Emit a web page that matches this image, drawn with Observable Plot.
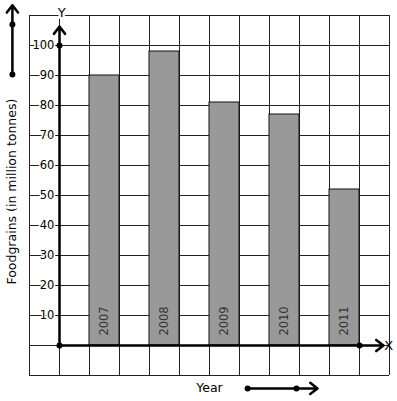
<!DOCTYPE html>
<html>
<head>
<meta charset="utf-8">
<script src="https://cdn.jsdelivr.net/npm/d3@7"></script>
<script src="https://cdn.jsdelivr.net/npm/@observablehq/plot@0.6"></script>
<style>
  html, body { margin: 0; padding: 0; background: #fff; }
  svg { display: block; }
</style>
</head>
<body>
<div id="chart"></div>
<script>
const years = ["2007", "2008", "2009", "2010", "2011"];
const values = [90, 98, 81, 77, 52];
const yTicks = [10, 20, 30, 40, 50, 60, 70, 80, 90, 100];
const yTitle = "Foodgrains (in million tonnes)";
const xTitle = "Year";

const bars = years.map((year, i) => ({year, value: values[i], x1: 2 * i + 1, x2: 2 * i + 2}));
const gridX = d3.range(-1, 12);
const gridY = d3.range(-10, 111, 10);
const font = "DejaVu Sans, Verdana, sans-serif";
const arrowStyle = {stroke: "#000", strokeWidth: 2.5, headLength: 5.5, headAngle: 75, bend: 0};

const chart = Plot.plot({
  width: 397,
  height: 401,
  margin: 0,
  style: {fontFamily: font, background: "#fff", overflow: "visible"},
  x: {type: "linear", domain: [-1, 11], range: [29, 389], axis: null},
  y: {type: "linear", domain: [-10, 110], range: [375, 15], axis: null},
  marks: [
    Plot.ruleX(gridX, {x: d => d, y1: -10, y2: 110, stroke: "#222", strokeWidth: 1}),
    Plot.ruleY(gridY, {y: d => d, x1: -1, x2: 11, stroke: "#222", strokeWidth: 1}),
    Plot.rect(bars, {x1: "x1", x2: "x2", y1: 0, y2: "value", fill: "#999", stroke: "#111", strokeWidth: 1}),
    Plot.text(bars, {x: d => (d.x1 + d.x2) / 2, y: 3.3, text: "year", rotate: -90, textAnchor: "start", fill: "#333", fontSize: 11.5, fontFamily: font}),
    Plot.text(yTicks, {x: -0.17, y: d => d, text: d => String(d), textAnchor: "end", fill: "#000", stroke: "#fff", strokeWidth: 3, fontSize: 11.5, fontFamily: font}),
    // axes
    Plot.arrow([0], {x1: 0, y1: 0, x2: 0, y2: 106.3, ...arrowStyle}),
    Plot.arrow([0], {x1: 0, y1: 0, x2: 10.8, y2: 0, ...arrowStyle}),
    Plot.dot([[0, 0], [0, 100], [10, 0]], {x: d => d[0], y: d => d[1], r: 3, fill: "#000"}),
    Plot.text(["Y"], {x: 0.07, y: 111, text: d => d, fill: "#000", stroke: "#fff", strokeWidth: 5, fontSize: 13, fontFamily: font}),
    Plot.text(["X"], {x: 10.97, y: 0, text: d => d, fill: "#000", fontSize: 13, fontFamily: font}),
    // outer decorations
    Plot.arrow([0], {x1: -1.57, y1: 90.3, x2: -1.57, y2: 113.4, ...arrowStyle}),
    Plot.dot([90.3, 107], {x: -1.57, y: d => d, r: 3, fill: "#000"}),
    Plot.arrow([0], {x1: 6.27, y1: -14.3, x2: 8.6, y2: -14.3, ...arrowStyle}),
    Plot.dot([6.27, 7.9], {x: d => d, y: -14.3, r: 3, fill: "#000"}),
    Plot.text([xTitle], {x: 5.0, y: -14.0, text: d => d, fill: "#000", fontSize: 12.5, fontFamily: font}),
    Plot.text([yTitle], {x: -1.57, y: 51.3, text: d => d, rotate: -90, fill: "#000", fontSize: 12.5, fontFamily: font})
  ]
});
document.getElementById("chart").append(chart);
</script>
</body>
</html>
